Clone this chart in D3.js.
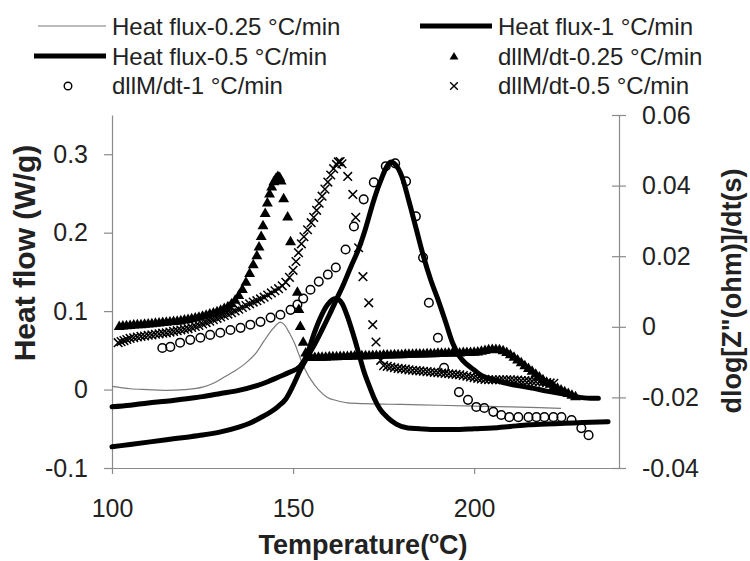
<!DOCTYPE html>
<html>
<head>
<meta charset="utf-8">
<script src="https://cdn.jsdelivr.net/npm/d3@7/dist/d3.min.js"></script>
<style>
  html, body { margin: 0; padding: 0; background: #fff; }
  svg { display: block; font-family: "Liberation Sans", Arial, sans-serif; }
</style>
</head>
<body>
<svg id="chart" width="750" height="561"></svg>
<script>
// ---------- data ----------
const xTicks = [100, 150, 200];
const yLeftTicks = [-0.1, 0, 0.1, 0.2, 0.3];
const yRightTicks = [-0.04, -0.02, 0, 0.02, 0.04, 0.06];

const legendLabels = [
  "Heat flux-0.25 °C/min", "Heat flux-1 °C/min",
  "Heat flux-0.5 °C/min", "dllM/dt-0.25 °C/min",
  "dllM/dt-1 °C/min", "dllM/dt-0.5 °C/min"
];

// Heat flux (left axis, W/g): [temperature, value]
const heatFlux025 = [
  [100,0.004],[105,0.001],[110,0.000],[115,-0.001],[120,0.000],[125,0.003],[128,0.008],
  [131,0.016],[134,0.024],[137,0.034],[140,0.048],[142,0.062],[144,0.075],[145.5,0.083],
  [146.5,0.086],[147.5,0.083],[149,0.072],[150.5,0.058],[152,0.040],[153.5,0.024],[155,0.012],
  [157,0.000],[159.5,-0.010],[162,-0.014],[165,-0.017],[170,-0.018],[180,-0.019],[190,-0.020],
  [200,-0.021],[210,-0.022],[218,-0.023],[224,-0.024]
];
const heatFlux05 = [
  [100,-0.022],[105,-0.020],[110,-0.017],[115,-0.015],[120,-0.012],[125,-0.009],[130,-0.005],
  [135,-0.001],[140,0.005],[143,0.010],[146,0.016],[149,0.022],[152,0.030],[154,0.046],
  [155.4,0.066],[157.6,0.092],[159.5,0.108],[161.8,0.116],[163.5,0.110],[165.1,0.092],
  [166.5,0.072],[167.9,0.050],[169.5,0.024],[171,0.005],[172.3,-0.010],[174,-0.025],
  [176.2,-0.036],[178.5,-0.044],[181.7,-0.049],[185,-0.050],[188,-0.051],[192,-0.051],
  [196,-0.051],[200,-0.050],[205,-0.049],[210,-0.047],[215,-0.045],[220,-0.044],[225,-0.043],
  [230,-0.042],[237,-0.041]
];
const heatFlux1 = [
  [100,-0.073],[105,-0.070],[110,-0.067],[115,-0.064],[120,-0.061],[125,-0.058],[130,-0.054],
  [135,-0.048],[138,-0.043],[141,-0.036],[144,-0.028],[146,-0.021],[148,-0.012],[150,0.005],
  [152,0.025],[154,0.042],[156,0.058],[158,0.076],[160,0.095],[162,0.115],[164,0.135],
  [166,0.157],[168,0.178],[170,0.205],[172,0.237],[174,0.264],[176,0.285],[177,0.290],
  [178,0.288],[180,0.272],[182,0.240],[184,0.205],[186,0.170],[188,0.140],[190,0.115],
  [192,0.088],[194,0.060],[196,0.042],[198,0.032],[200,0.025],[202,0.018],[205,0.013],
  [208,0.009],[212,0.005],[216,0.002],[220,-0.002],[224,-0.005],[228,-0.009],[232,-0.011],
  [234.3,-0.011]
];

// dlog|Z|/dt (right axis): [temperature, value]
const dlogdt025 = [
  [102,0.0000],[103,0.0001],[104,0.0002],[105,0.0003],[106,0.0004],[107,0.0005],[108,0.0005],
  [109,0.0006],[110,0.0007],[111,0.0008],[112,0.0009],[113,0.0010],[114,0.0011],[115,0.0012],
  [116,0.0013],[117,0.0014],[118,0.0015],[119,0.0016],[120,0.0018],[121,0.0020],[122,0.0022],
  [123,0.0024],[124,0.0026],[125,0.0029],[126,0.0032],[127,0.0035],[128,0.0038],[129,0.0042],
  [130,0.0046],[131,0.0051],[132,0.0056],[133,0.0064],[134,0.0074],[135,0.0088],[136,0.0105],
  [137,0.0125],[138,0.0150],[139,0.0175],[140,0.0200],[140.6,0.0225],[141.2,0.0255],
  [141.7,0.0285],[142.3,0.0320],[142.9,0.0350],[143.5,0.0375],[144.1,0.0395],[144.7,0.0410],
  [145.3,0.0420],[145.8,0.0425],[146.3,0.0422],[146.7,0.0412],[147.4,0.0362],[148.5,0.0310],
  [149.3,0.0240],[151.2,0.0097],[151.6,0.0048],[152.0,0.0000],[152.8,-0.0045],[153.5,-0.0075],
  [154.3,-0.0086],[155,-0.0088],[156,-0.0088],[157,-0.0087],[158,-0.0087],[159,-0.0087],
  [160,-0.0086],[161,-0.0086],[162,-0.0086],[163,-0.0085],[164,-0.0085],[165,-0.0085],
  [166,-0.0084],[167,-0.0084],[168,-0.0084],[169,-0.0083],[170,-0.0083],[171,-0.0083],
  [172,-0.0082],[173,-0.0082],[174,-0.0082],[175,-0.0081],[176,-0.0081],[177,-0.0081],
  [178,-0.0080],[179,-0.0080],[180,-0.0080],[181,-0.0079],[182,-0.0079],[183,-0.0079],
  [184,-0.0078],[185,-0.0078],[186,-0.0078],[187,-0.0077],[188,-0.0077],[189,-0.0077],
  [190,-0.0076],[191,-0.0076],[192,-0.0076],[193,-0.0075],[194,-0.0075],[195,-0.0075],
  [196,-0.0075],[197,-0.0074],[198,-0.0074],[199,-0.0074],[200,-0.0073],[201,-0.0072],
  [202,-0.0070],[203,-0.0068],[204,-0.0066],[205,-0.0065],[206,-0.0065],[207,-0.0066],
  [208,-0.0069],[209,-0.0074],[210,-0.0080],[211,-0.0087],[212,-0.0095],[213,-0.0103],
  [214,-0.0111],[215,-0.0119],[216,-0.0127],[217,-0.0135],[218,-0.0143],[219,-0.0151],
  [220,-0.0158],[221,-0.0164],[222,-0.0170],[223,-0.0175],[224,-0.0180],[225,-0.0185],
  [226,-0.0190],[227,-0.0195],[228,-0.0199]
];
const dlogdt05 = [
  [101.7,-0.0045],[102.5,-0.0042],[103.3,-0.0039],[104.1,-0.0036],[105,-0.0033],[106,-0.0031],
  [107,-0.0029],[108,-0.0027],[109,-0.0026],[110,-0.0024],[111,-0.0023],[112,-0.0021],
  [113,-0.0020],[114,-0.0018],[115,-0.0017],[116,-0.0015],[117,-0.0013],[118,-0.0011],
  [119,-0.0009],[120,-0.0007],[121,-0.0005],[122,-0.0002],[123,0.0001],[124,0.0004],
  [125,0.0008],[126,0.0012],[127,0.0016],[128,0.0020],[129,0.0024],[130,0.0028],[131,0.0032],
  [132,0.0036],[133,0.0040],[134,0.0045],[135,0.0050],[136,0.0055],[137,0.0060],[138,0.0065],
  [139,0.0070],[140,0.0074],[141,0.0079],[142,0.0084],[143,0.0090],[144,0.0096],[145,0.0102],
  [146,0.0108],[147,0.0116],[148,0.0126],[149,0.0140],[150,0.0160],[150.8,0.0185],
  [151.5,0.0210],[152.3,0.0235],[153,0.0255],[154,0.0275],[155,0.0295],[155.7,0.0310],
  [156.5,0.0330],[157.2,0.0350],[158,0.0370],[158.8,0.0390],[159.6,0.0410],[160.4,0.0430],
  [161.2,0.0448],[162,0.0460],[162.5,0.0467],[163,0.0468],[163.5,0.0462],[165.1,0.0426],
  [166.5,0.0375],[167.3,0.0310],[168.1,0.0224],[169.3,0.0142],[170.9,0.0068],[172,0.0006],
  [172.9,-0.0043],[174.2,-0.0095],[175,-0.0110],[176,-0.0112],[177,-0.0114],[178,-0.0116],
  [179,-0.0118],[180,-0.0119],[181,-0.0120],[182,-0.0122],[183,-0.0123],[184,-0.0124],
  [185,-0.0125],[186,-0.0126],[187,-0.0127],[188,-0.0128],[189,-0.0129],[190,-0.0130],
  [191,-0.0131],[192,-0.0132],[193,-0.0133],[194,-0.0134],[195,-0.0135],[196,-0.0136],
  [197,-0.0138],[198,-0.0140],[199,-0.0142],[200,-0.0144],[201,-0.0146],[202,-0.0148],
  [203,-0.0149],[204,-0.0150],[205,-0.0150],[206,-0.0150],[207,-0.0150],[208,-0.0150],
  [209,-0.0150],[210,-0.0150],[211,-0.0151],[212,-0.0151],[213,-0.0152],[214,-0.0152],
  [215,-0.0153],[216,-0.0154],[217,-0.0155],[218,-0.0156],[219,-0.0157],[220,-0.0158],
  [221,-0.0159],[222,-0.0160]
];
const dlogdt1 = [
  [113.9,-0.0060],[116.1,-0.0057],[118.8,-0.0045],[121.6,-0.0037],[124.4,-0.0031],
  [127.1,-0.0023],[129.9,-0.0017],[132.7,-0.0009],[135.5,-0.0003],[138.2,0.0006],
  [141.0,0.0014],[143.8,0.0026],[146.5,0.0034],[149.3,0.0048],[151.2,0.0063],[152.8,0.0080],
  [154.8,0.0105],[157.1,0.0128],[159.6,0.0148],[161.8,0.0168],[164.5,0.0219],[166.8,0.0284],
  [169.5,0.0361],[172.3,0.0409],[175.6,0.0455],[178.2,0.0463],[181.2,0.0412],[183.9,0.0313],
  [185.9,0.0196],[187.5,0.0068],[190.0,-0.0031],[191.7,-0.0116],[195.8,-0.0185],
  [198.3,-0.0207],[200.6,-0.0227],[202.8,-0.0230],[205.3,-0.0241],[207.5,-0.0250],
  [209.7,-0.0256],[212.2,-0.0256],[215.0,-0.0256],[217.2,-0.0256],[219.4,-0.0256],
  [221.9,-0.0256],[224.1,-0.0256],[226.9,-0.0264],[229.6,-0.0287],[231.6,-0.0307]
];

// ---------- chart ----------
const svg = d3.select("#chart");
const x = d3.scaleLinear().domain([100, 240]).range([112, 619]);
const yL = d3.scaleLinear().domain([-0.1, 0.35]).range([468, 115]);
const yR = d3.scaleLinear().domain([-0.04, 0.06]).range([468, 115]);
const fmt = v => String(+v.toFixed(3)).replace("\u2212", "-");
const axisColor = "#8a8a8a";
const tickFont = 25;

// axes
const gx = svg.append("g").attr("transform", "translate(0,468)")
  .call(d3.axisBottom(x).tickValues(xTicks).tickSize(6).tickSizeOuter(0).tickPadding(25).tickFormat(fmt));
const gl = svg.append("g").attr("transform", "translate(112,0)")
  .call(d3.axisLeft(yL).tickValues(yLeftTicks).tickSize(8).tickSizeOuter(0).tickPadding(16).tickFormat(fmt));
const gr = svg.append("g").attr("transform", "translate(619,0)")
  .call(d3.axisRight(yR).tickValues(yRightTicks).tickSize(7).tickSizeOuter(0).tickPadding(16).tickFormat(fmt));
gr.selectAll(".tick line").attr("x1", -7);
[gx, gl, gr].forEach(g => {
  g.selectAll("path.domain").attr("stroke", axisColor).attr("stroke-width", 1.2);
  g.selectAll(".tick line").attr("stroke", axisColor).attr("stroke-width", 1.2);
  g.selectAll(".tick text").attr("fill", "#222").attr("font-size", tickFont)
    .attr("font-family", "'Liberation Sans', Arial, sans-serif");
});

// axis titles
svg.append("text").attr("x", 363).attr("y", 554).attr("text-anchor", "middle")
  .attr("font-size", 27).attr("font-weight", "bold").attr("fill", "#222")
  .call(t => {
    t.append("tspan").text("Temperature(");
    t.append("tspan").attr("font-size", 16).attr("dy", -11).text("o");
    t.append("tspan").attr("dy", 11).text("C)");
  });
svg.append("text").attr("transform", "translate(35,253) rotate(-90)").attr("text-anchor", "middle")
  .attr("font-size", 30).attr("font-weight", "bold").attr("fill", "#222").text("Heat flow (W/g)");
svg.append("text").attr("transform", "translate(741,291) rotate(-90)").attr("text-anchor", "middle")
  .attr("font-size", 27).attr("font-weight", "bold").attr("fill", "#222").text("dlog[Z\"(ohm)]/dt(s)");

// lines
const line = d3.line().x(d => x(d[0])).y(d => yL(d[1])).curve(d3.curveMonotoneX);
const plot = svg.append("g");
plot.append("path").datum(heatFlux025).attr("d", line).attr("fill", "none")
  .attr("stroke", "#7a7a7a").attr("stroke-width", 1.2);
plot.append("path").datum(heatFlux05).attr("d", line).attr("fill", "none")
  .attr("stroke", "#000").attr("stroke-width", 5).attr("stroke-linejoin", "round").attr("stroke-linecap", "round");
plot.append("path").datum(heatFlux1).attr("d", line).attr("fill", "none")
  .attr("stroke", "#000").attr("stroke-width", 5).attr("stroke-linejoin", "round").attr("stroke-linecap", "round");

// markers
const triPath = d3.symbol(d3.symbolTriangle, 52)();
const crossPath = "M-4.3,-4.3L4.3,4.3M-4.3,4.3L4.3,-4.3";
plot.append("g").selectAll("path").data(dlogdt025).join("path")
  .attr("d", triPath).attr("transform", d => `translate(${x(d[0])},${yR(d[1])})`)
  .attr("fill", "#000");
plot.append("g").selectAll("path").data(dlogdt05).join("path")
  .attr("d", crossPath).attr("transform", d => `translate(${x(d[0])},${yR(d[1])})`)
  .attr("fill", "none").attr("stroke", "#000").attr("stroke-width", 1.5);
plot.append("g").selectAll("circle").data(dlogdt1).join("circle")
  .attr("cx", d => x(d[0])).attr("cy", d => yR(d[1])).attr("r", 4.3)
  .attr("fill", "none").attr("stroke", "#000").attr("stroke-width", 1.5);

// legend
const leg = svg.append("g").attr("font-size", 24).attr("fill", "#222");
const rowsY = [26, 56, 85];
const colText = [112, 498];
const items = [
  {label: legendLabels[0], col: 0, row: 0, kind: "thin"},
  {label: legendLabels[1], col: 1, row: 0, kind: "thick"},
  {label: legendLabels[2], col: 0, row: 1, kind: "thick"},
  {label: legendLabels[3], col: 1, row: 1, kind: "tri"},
  {label: legendLabels[4], col: 0, row: 2, kind: "circle"},
  {label: legendLabels[5], col: 1, row: 2, kind: "cross"}
];
items.forEach(it => {
  const tx = colText[it.col], cy = rowsY[it.row];
  const x0 = tx - 78, x1 = tx - 6, xm = tx - 44;
  if (it.kind === "thin") leg.append("line").attr("x1", x0 + 4).attr("x2", x1).attr("y1", cy).attr("y2", cy)
    .attr("stroke", "#7a7a7a").attr("stroke-width", 1.2);
  if (it.kind === "thick") leg.append("line").attr("x1", x0).attr("x2", x1).attr("y1", cy).attr("y2", cy)
    .attr("stroke", "#000").attr("stroke-width", 5);
  if (it.kind === "tri") leg.append("path").attr("d", d3.symbol(d3.symbolTriangle, 34)())
    .attr("transform", `translate(${xm},${cy + 1})`).attr("fill", "#000");
  if (it.kind === "circle") leg.append("circle").attr("cx", xm).attr("cy", cy + 1).attr("r", 3.8)
    .attr("fill", "none").attr("stroke", "#000").attr("stroke-width", 1.4);
  if (it.kind === "cross") leg.append("path").attr("d", "M-3.8,-3.8L3.8,3.8M-3.8,3.8L3.8,-3.8")
    .attr("transform", `translate(${xm},${cy + 1})`).attr("stroke", "#000").attr("stroke-width", 1.4);
  leg.append("text").attr("x", tx).attr("y", cy + 8.5).text(it.label);
});
</script>
</body>
</html>
